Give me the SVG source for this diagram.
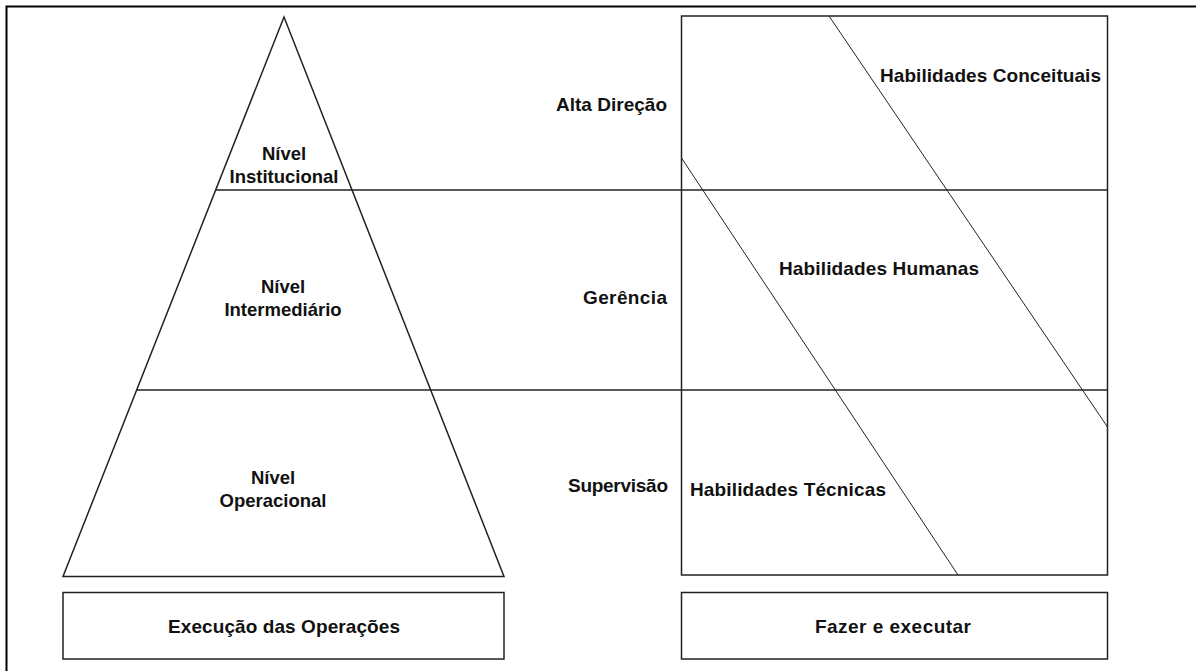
<svg xmlns="http://www.w3.org/2000/svg" width="1196" height="671" viewBox="0 0 1196 671">
<style>
.t{font-family:"Liberation Sans",Arial,sans-serif;font-weight:bold;font-size:19px;fill:#111;}
.n{font-size:18.5px;}
.m{text-anchor:middle;}
.box{fill:#fff;stroke:#222;stroke-width:1.5;}
.ln{stroke:#222;stroke-width:1.3;fill:none;}
.dg{stroke:#222;stroke-width:1;fill:none;}
</style>
<rect x="0" y="0" width="1196" height="671" fill="#fff"/>
<path d="M6.5 680 V6.5 H1200" fill="none" stroke="#000" stroke-width="2"/>
<g id="pyramid">
<polygon points="284,17 63,576.5 504,576.5" class="box" stroke-width="1.2"/>
</g>
<g id="skills-box">
<rect x="681.5" y="16" width="426" height="559" class="box"/>
</g>
<g id="connectors">
<line x1="216" y1="190" x2="1107.5" y2="190" class="ln"/>
<line x1="137" y1="390" x2="1107.5" y2="390" class="ln"/>
<line x1="829" y1="16" x2="1107.5" y2="427" class="dg"/>
<line x1="681.5" y1="158" x2="958" y2="575" class="dg"/>
</g>
<g id="nivel-institucional">
<text class="t n m" x="284" y="160">Nível</text>
<text class="t n m" x="284" y="183">Institucional</text>
</g>
<g id="nivel-intermediario">
<text class="t n m" x="283" y="293">Nível</text>
<text class="t n m" x="283" y="316">Intermediário</text>
</g>
<g id="nivel-operacional">
<text class="t n m" x="273" y="484">Nível</text>
<text class="t n m" x="273" y="507">Operacional</text>
</g>
<g id="alta-direcao"><text class="t" x="556" y="111" textLength="111">Alta Direção</text></g>
<g id="gerencia"><text class="t" x="583" y="304" textLength="84">Gerência</text></g>
<g id="supervisao"><text class="t" x="568" y="492" textLength="100">Supervisão</text></g>
<g id="hab-conceituais"><text class="t" x="880" y="82" textLength="221">Habilidades Conceituais</text></g>
<g id="hab-humanas"><text class="t" x="779" y="275" textLength="200">Habilidades Humanas</text></g>
<g id="hab-tecnicas"><text class="t" x="690" y="496" textLength="196">Habilidades Técnicas</text></g>
<g id="execucao">
<rect x="63" y="592.5" width="441" height="66.5" class="box"/>
<text class="t" x="168" y="633" textLength="232">Execução das Operações</text>
</g>
<g id="fazer">
<rect x="681.5" y="592.5" width="426" height="66.5" class="box"/>
<text class="t" x="815" y="633" textLength="156">Fazer e executar</text>
</g>
</svg>
